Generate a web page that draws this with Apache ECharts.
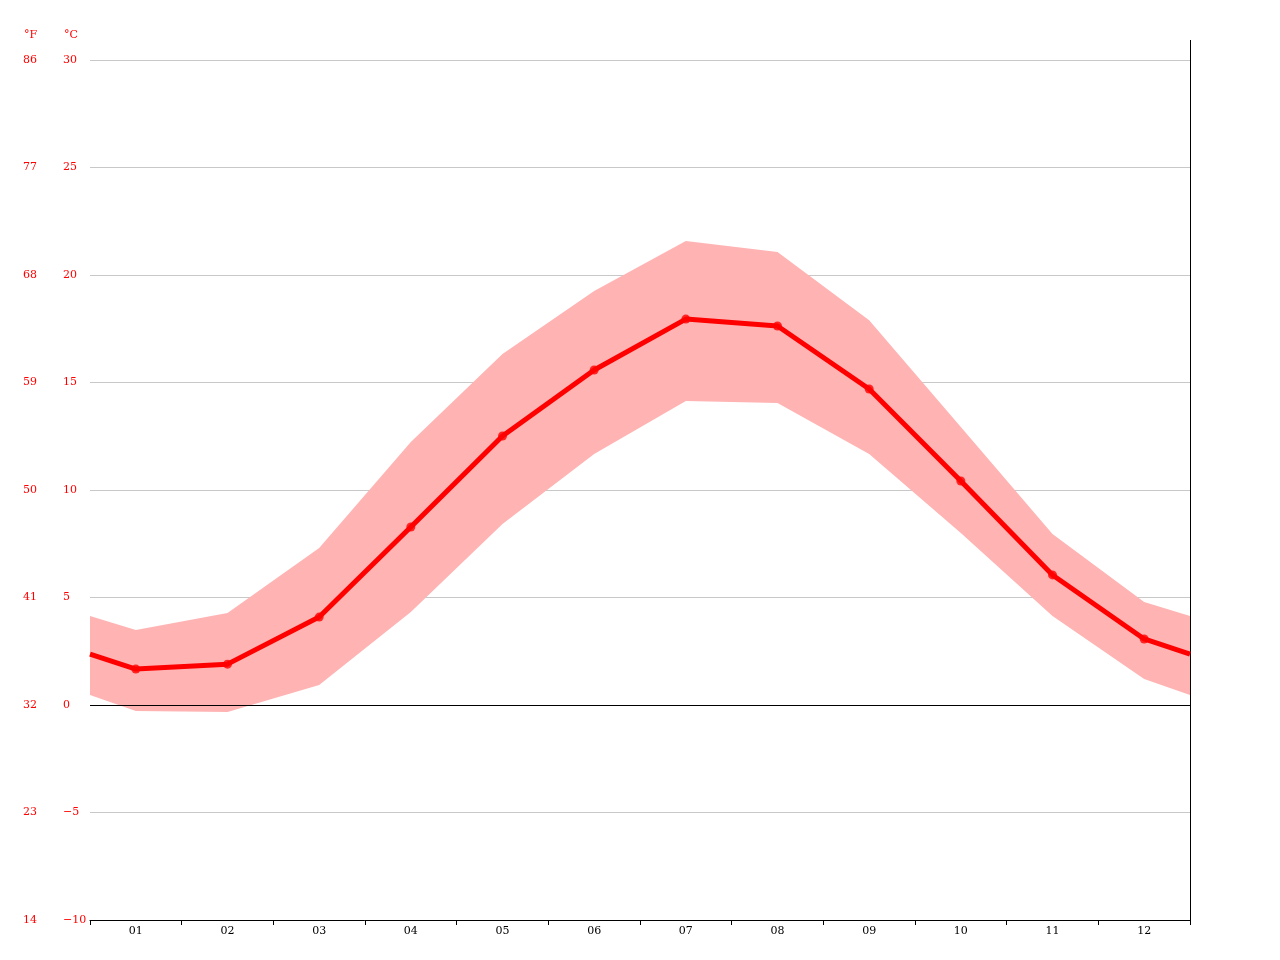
<!DOCTYPE html>
<html><head><meta charset="utf-8">
<script src="https://cdn.jsdelivr.net/npm/echarts@6/dist/echarts.min.js"></script>
<style>html,body{margin:0;padding:0;background:#fff}#c{width:1280px;height:960px}</style>
</head><body><div id="c"></div>
<script>
// x positions: 0 and 12 are plot edges (Dec/Jan wrap), month i at i-0.5
const xPos = [0, 0.5, 1.5, 2.5, 3.5, 4.5, 5.5, 6.5, 7.5, 8.5, 9.5, 10.5, 11.5, 12];
const meanTemp = [2.37, 1.67, 1.9, 4.09, 8.28, 12.51, 15.58, 17.95, 17.63, 14.7, 10.42, 6.05, 3.07, 2.37];
const maxTemp = [4.14, 3.49, 4.28, 7.3, 12.23, 16.33, 19.26, 21.58, 21.07, 17.9, 12.93, 7.95, 4.79, 4.14];
const minTemp = [0.47, -0.28, -0.33, 0.93, 4.33, 8.42, 11.67, 14.14, 14.05, 11.67, 8.0, 4.14, 1.21, 0.47];
const monthLabels = ['01','02','03','04','05','06','07','08','09','10','11','12'];

const font = 'DejaVu Serif';
const pair = a => a.map((v,i)=>[xPos[i], v]);
const meanPts = pair(meanTemp).filter((p,i)=>i>0 && i<13);

const chart = echarts.init(document.getElementById('c'));
chart.setOption({
  animation:false,
  grid:{left:90,right:90,top:60,bottom:40},
  graphic:[
    {type:'text',left:24,top:30,style:{text:'°F',fill:'#f00',font:'11px DejaVu Serif'}},
    {type:'text',left:64,top:30,style:{text:'°C',fill:'#f00',font:'11px DejaVu Serif'}},
    {type:'line',shape:{x1:1190.5,y1:40,x2:1190.5,y2:920},style:{stroke:'#000',lineWidth:1}}
  ],
  xAxis:[
    {type:'value',min:0,max:12,interval:1,axisLine:{onZero:false,lineStyle:{color:'#000'}},
     axisTick:{show:true,lineStyle:{color:'#000'}},axisLabel:{show:false},splitLine:{show:false}},
    {type:'value',min:0,max:12,interval:0.5,position:'bottom',axisLine:{show:false,onZero:false},axisTick:{show:false},
     splitLine:{show:false},
     axisLabel:{color:'#000',fontFamily:font,fontSize:11,margin:6,
       formatter:v=>(Math.abs(v%1-0.5)<1e-6)?monthLabels[Math.round(v-0.5)]:''}}
  ],
  yAxis:[
    {type:'value',min:-10,max:30,interval:5,position:'left',
     axisLine:{show:false},axisTick:{show:false},
     splitLine:{lineStyle:{color:'#c8c8c8'}},
     axisLabel:{color:'#f00',fontFamily:font,fontSize:11,align:'left',margin:27,
       formatter:v=>v<0?'\u2212'+(-v):''+v}},
    {type:'value',min:14,max:86,interval:9,position:'left',
     axisLine:{show:false},axisTick:{show:false},splitLine:{show:false},
     axisLabel:{color:'#f00',fontFamily:font,fontSize:11,align:'left',margin:67}}
  ],
  series:[
    {type:'custom',data:[[0,0]],silent:true,z:1,
     renderItem:(params,api)=>{
       const pts=[];
       for(let i=0;i<xPos.length;i++) pts.push(api.coord([xPos[i],maxTemp[i]]));
       for(let i=xPos.length-1;i>=0;i--) pts.push(api.coord([xPos[i],minTemp[i]]));
       return {type:'polygon',shape:{points:pts},style:{fill:'#ffb3b3'}};
     },
     markLine:{silent:true,symbol:'none',label:{show:false},lineStyle:{color:'#000',type:'solid',width:1},data:[{yAxis:0}]}},
    {type:'line',data:pair(meanTemp),symbol:'none',lineStyle:{color:'#ff0000',width:5},z:5},
    {type:'scatter',data:meanPts,symbol:'circle',symbolSize:9,itemStyle:{color:'#ff0000'},z:6}
  ]
});
</script></body></html>
